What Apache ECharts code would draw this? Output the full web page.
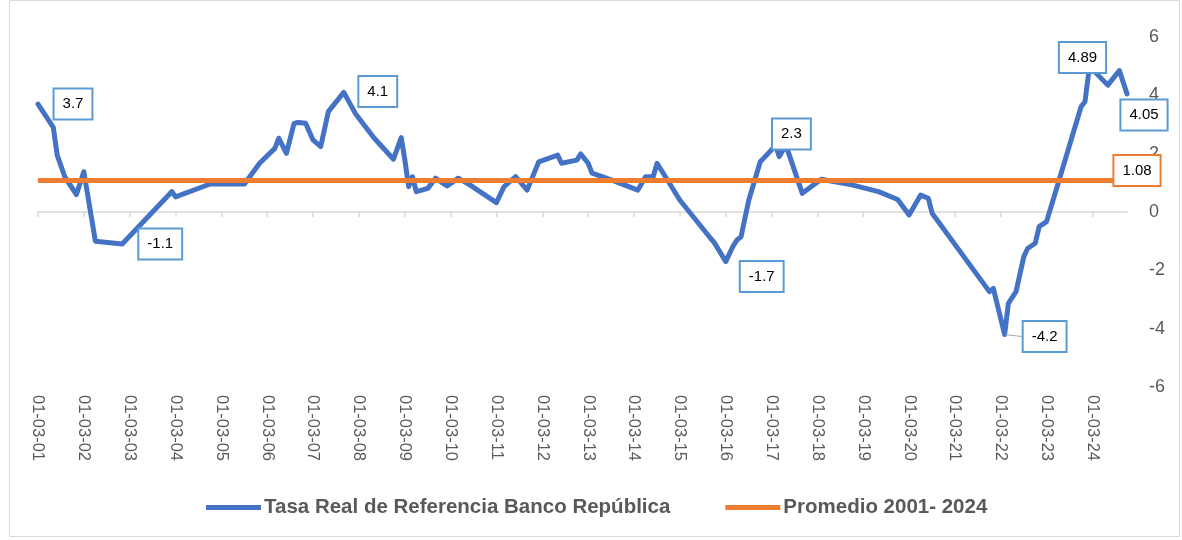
<!DOCTYPE html>
<html>
<head>
<meta charset="utf-8">
<script src="https://cdn.jsdelivr.net/npm/echarts@6/dist/echarts.min.js"></script>
<style>
html,body{margin:0;padding:0;background:#fff;}
#chart{width:1182px;height:540px;}
</style>
</head>
<body>
<div id="chart"></div>
<script>
// ---- data ----
const dates = [
'2001-03','2001-07','2001-08','2001-10','2002-01','2002-03','2002-06','2003-01',
'2004-02','2004-03','2004-12','2005-09','2006-01','2006-05','2006-06','2006-08',
'2006-10','2006-11','2007-01','2007-03','2007-05','2007-07','2007-11','2008-02',
'2008-07','2008-12','2009-02','2009-03','2009-04','2009-05','2009-06','2009-09',
'2009-11','2010-02','2010-05','2010-08','2011-03','2011-05','2011-08','2011-11',
'2012-02','2012-07','2012-08','2012-12','2013-01','2013-03','2013-04','2013-09',
'2014-04','2014-06','2014-08','2014-09','2015-03','2015-11','2015-12','2016-03',
'2016-05','2016-06','2016-07','2016-09','2016-12','2017-03','2017-04','2017-05',
'2017-06','2017-07','2017-11','2018-04','2018-12','2019-07','2019-12','2020-03',
'2020-06','2020-08','2020-09','2020-10','2021-12','2022-01','2022-04','2022-05',
'2022-07','2022-09','2022-10','2022-12','2023-01','2023-03','2023-06','2023-12',
'2024-01','2024-02','2024-03','2024-07','2024-10','2024-12'
];
const rates = [
3.7, 2.9, 1.95, 1.2, 0.6, 1.38, -1.0, -1.1,
0.7, 0.52, 0.96, 0.96, 1.68, 2.18, 2.53, 2.01,
3.04, 3.07, 3.04, 2.47, 2.24, 3.44, 4.1, 3.38,
2.53, 1.81, 2.55, 1.8, 0.87, 1.21, 0.7, 0.81,
1.16, 0.89, 1.16, 0.93, 0.32, 0.87, 1.21, 0.75,
1.72, 1.95, 1.67, 1.78, 1.99, 1.67, 1.33, 1.1,
0.75, 1.21, 1.21, 1.67, 0.41, -0.9, -1.05, -1.7,
-1.15, -0.95, -0.85, 0.41, 1.72, 2.13, 2.3, 1.9,
2.13, 2.2, 0.64, 1.12, 0.93, 0.7, 0.43, -0.1,
0.58, 0.47, -0.05, -0.22, -2.73, -2.62, -4.2, -3.13,
-2.73, -1.53, -1.25, -1.07, -0.5, -0.33, 0.98, 3.61,
3.78, 4.81, 4.89, 4.35, 4.85, 4.05
];
const averageValue = 1.08;
const tickYears = ['01','02','03','04','05','06','07','08','09','10','11','12',
                   '13','14','15','16','17','18','19','20','21','22','23','24'];
const seriesNames = ['Tasa Real de Referencia Banco República', 'Promedio 2001- 2024'];
const labeledDates = ['2001-03','2003-01','2007-11','2016-03','2017-04','2022-04','2024-03','2024-12'];

// ---- label placement (style only) ----
const labelShift = {
  '2001-03':[35,0], '2003-01':[38,0], '2007-11':[34,-1], '2016-03':[36,15],
  '2017-04':[16,-11], '2022-04':[40,2], '2024-03':[-10,-12], '2024-12':[17,21]
};

function toTime(s){ const p = s.split('-').map(Number); return new Date(p[0], p[1]-1, 1).getTime(); }

const BLUE = '#4472C4', ORANGE = '#ED7D31', LBLUE = '#5B9BD5', GREY = '#595959';
const FONT = "'Liberation Sans', Arial, sans-serif";

const boxLabel = (border) => ({
  show: true, position: 'inside', color: '#000', fontSize: 15, fontFamily: FONT,
  backgroundColor: '#fff', borderColor: border, borderWidth: 2, padding: [7, 8],
  formatter: p => String(p.value[1])
});

const blueData = dates.map((d, i) => {
  const item = { value: [toTime(d), rates[i]] };
  if (labeledDates.indexOf(d) >= 0) {
    item.label = boxLabel(LBLUE);
    item.shift = labelShift[d];
    if (d === '2022-04') item.labelLine = { show: true, lineStyle: { color: '#A6A6A6', width: 1 } };
  }
  return item;
});
const firstT = toTime(dates[0]), lastT = toTime(dates[dates.length - 1]);
const avgData = [
  { value: [firstT, averageValue] },
  { value: [lastT, averageValue], label: boxLabel(ORANGE), shift: [10, -10] }
];
const tickValues = tickYears.map(y => new Date(2000 + Number(y), 2, 1).getTime());

const chart = echarts.init(document.getElementById('chart'), null, { renderer: 'canvas' });
chart.setOption({
  animation: false,
  backgroundColor: '#fff',
  textStyle: { fontFamily: FONT },
  grid: { left: 38, right: 55, top: 37, bottom: 153, containLabel: false },
  xAxis: [
    {
      type: 'value', min: firstT, max: lastT, position: 'bottom', scale: true,
      axisLine: { show: true, onZero: true, lineStyle: { color: '#D9D9D9', width: 1.5 } },
      axisTick: { show: true, length: 5, customValues: tickValues, lineStyle: { color: '#D9D9D9', width: 1.5 } },
      axisLabel: { show: false },
      splitLine: { show: false }
    },
    {
      type: 'value', min: firstT, max: lastT, position: 'bottom', scale: true,
      axisLine: { show: false, onZero: false },
      axisTick: { show: false },
      splitLine: { show: false },
      axisLabel: {
        show: true, customValues: tickValues, rotate: -90, margin: 8,
        color: GREY, fontSize: 16.5, fontFamily: FONT,
        formatter: v => '01-03-' + String(new Date(v).getFullYear()).slice(2)
      }
    }
  ],
  yAxis: {
    type: 'value', position: 'right', min: -6, max: 6, interval: 2,
    axisLine: { show: false }, axisTick: { show: false }, splitLine: { show: false },
    axisLabel: { color: GREY, fontSize: 18, margin: 22, fontFamily: FONT }
  },
  legend: {
    left: 206, top: 497, padding: 0, icon: 'rect', itemWidth: 55, itemHeight: 5, itemGap: 55,
    textStyle: { fontSize: 20.5, fontWeight: 'bold', color: GREY, fontFamily: FONT, padding: [0, 0, 0, -2] },
    data: seriesNames
  },
  series: [
    {
      name: seriesNames[0], type: 'line', xAxisIndex: 0, data: blueData,
      showSymbol: true, symbol: 'circle', symbolSize: 1, smooth: false,
      lineStyle: { color: BLUE, width: 5, join: 'round', cap: 'round' },
      itemStyle: { color: BLUE },
      labelLayout: p => { const it = blueData[p.dataIndex]; return it && it.shift ? { dx: it.shift[0], dy: it.shift[1] } : {}; },
      z: 2
    },
    {
      name: seriesNames[1], type: 'line', xAxisIndex: 0, data: avgData,
      showSymbol: true, symbol: 'circle', symbolSize: 1,
      lineStyle: { color: ORANGE, width: 5 },
      itemStyle: { color: ORANGE },
      labelLayout: p => { const it = avgData[p.dataIndex]; return it && it.shift ? { dx: it.shift[0], dy: it.shift[1] } : {}; },
      z: 3
    }
  ],
  graphic: [{
    type: 'rect', silent: true, z: -1,
    shape: { x: 9.5, y: 0.5, width: 1170, height: 536 },
    style: { fill: null, stroke: '#D9D9D9', lineWidth: 1 }
  }]
});
</script>
</body>
</html>
